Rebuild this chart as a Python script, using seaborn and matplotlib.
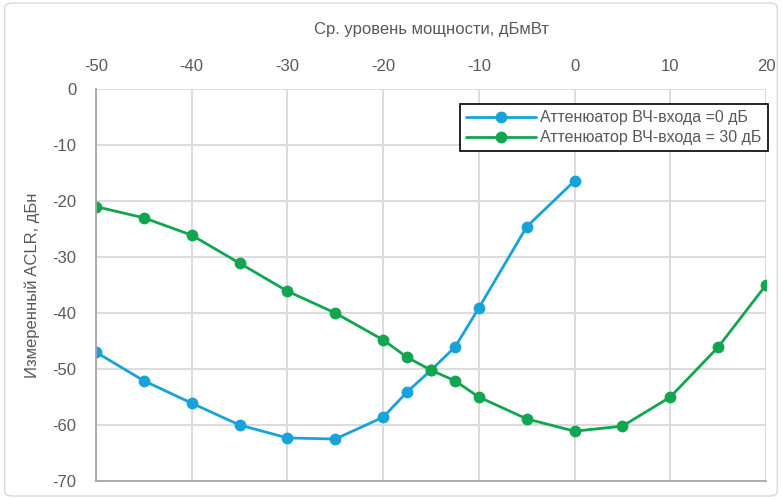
import matplotlib
matplotlib.use("Agg")
import matplotlib.pyplot as plt
from matplotlib.patches import FancyBboxPatch
import seaborn as sns
import pandas as pd

# Measured ACLR versus mean input power for two RF input attenuator settings
power_att0 = [-50, -45, -40, -35, -30, -25, -20, -17.5, -15, -12.5, -10, -5, 0]
aclr_att0 = [-47.0, -52.1, -56.1, -60.0, -62.3, -62.5, -58.6, -54.1, -50.2, -46.1, -39.1, -24.6, -16.4]

power_att30 = [-50, -45, -40, -35, -30, -25, -20, -17.5, -15, -12.5, -10, -5, 0, 5, 10, 15, 20]
aclr_att30 = [-21.0, -23.0, -26.1, -31.1, -36.1, -40.0, -44.8, -47.9, -50.2, -52.1, -55.0, -58.9, -61.1, -60.2, -55.0, -46.1, -35.0]

series_labels = ["Аттенюатор ВЧ-входа =0 дБ", "Аттенюатор ВЧ-входа = 30 дБ"]
series_colors = ["#17A2DA", "#10A64F"]

x_ticks = [-50, -40, -30, -20, -10, 0, 10, 20]
y_ticks = [0, -10, -20, -30, -40, -50, -60, -70]

df = pd.concat([
    pd.DataFrame({"power": power_att0, "aclr": aclr_att0, "series": series_labels[0]}),
    pd.DataFrame({"power": power_att30, "aclr": aclr_att30, "series": series_labels[1]}),
])

sns.set_theme(style="white")
plt.rcParams["font.family"] = ["Liberation Sans Narrow", "Liberation Sans", "DejaVu Sans"]
plt.rcParams["axes.unicode_minus"] = False
text_color = "#595959"
grid_color = "#D9D9D9"

fig = plt.figure(figsize=(7.82, 4.99), dpi=100)
ax = fig.add_axes([0.1228, 0.036, 0.8567, 0.7856])

sns.lineplot(
    data=df, x="power", y="aclr", hue="series", hue_order=series_labels,
    palette=series_colors, marker="o", markersize=8.5, markeredgewidth=0,
    linewidth=2, sort=False, ax=ax, legend=True,
)

ax.set_xlim(-50, 20)
ax.set_ylim(-70, 0)
ax.set_xticks(x_ticks)
ax.set_yticks(y_ticks)
ax.xaxis.tick_top()
ax.xaxis.set_label_position("top")
ax.tick_params(axis="x", length=0, labelsize=12, colors=text_color, pad=11)
ax.tick_params(axis="y", length=0, labelsize=12, colors=text_color, pad=14)
ax.set_xlabel("Ср. уровень мощности, дБмВт", fontsize=12, color=text_color, labelpad=18)
ax.set_ylabel("Измеренный ACLR, дБн", fontsize=12, color=text_color, labelpad=9)

ax.grid(True, color=grid_color, linewidth=1.3)
ax.set_axisbelow(True)
for side in ["top", "right"]:
    ax.spines[side].set_visible(False)
for side in ["left", "bottom"]:
    ax.spines[side].set_color("#A6A6A6")
    ax.spines[side].set_linewidth(1.3)

leg = ax.legend(
    loc="upper right", bbox_to_anchor=(1.003, 0.962), borderaxespad=0, fontsize=11.5,
    frameon=True, fancybox=False, edgecolor="black", framealpha=1,
    handlelength=4.4, handletextpad=0.25, borderpad=0.4, labelspacing=0.3,
)
leg.get_frame().set_linewidth(1.2)
for t in leg.get_texts():
    t.set_color(text_color)

# thin rounded frame around the whole chart
fig.patches.append(FancyBboxPatch(
    (0.006, 0.006), 0.988, 0.988, boxstyle="round,pad=0,rounding_size=0.01",
    transform=fig.transFigure, facecolor="none", edgecolor="#D9D9D9", linewidth=1,
))

fig.savefig("out.png", dpi=100)
